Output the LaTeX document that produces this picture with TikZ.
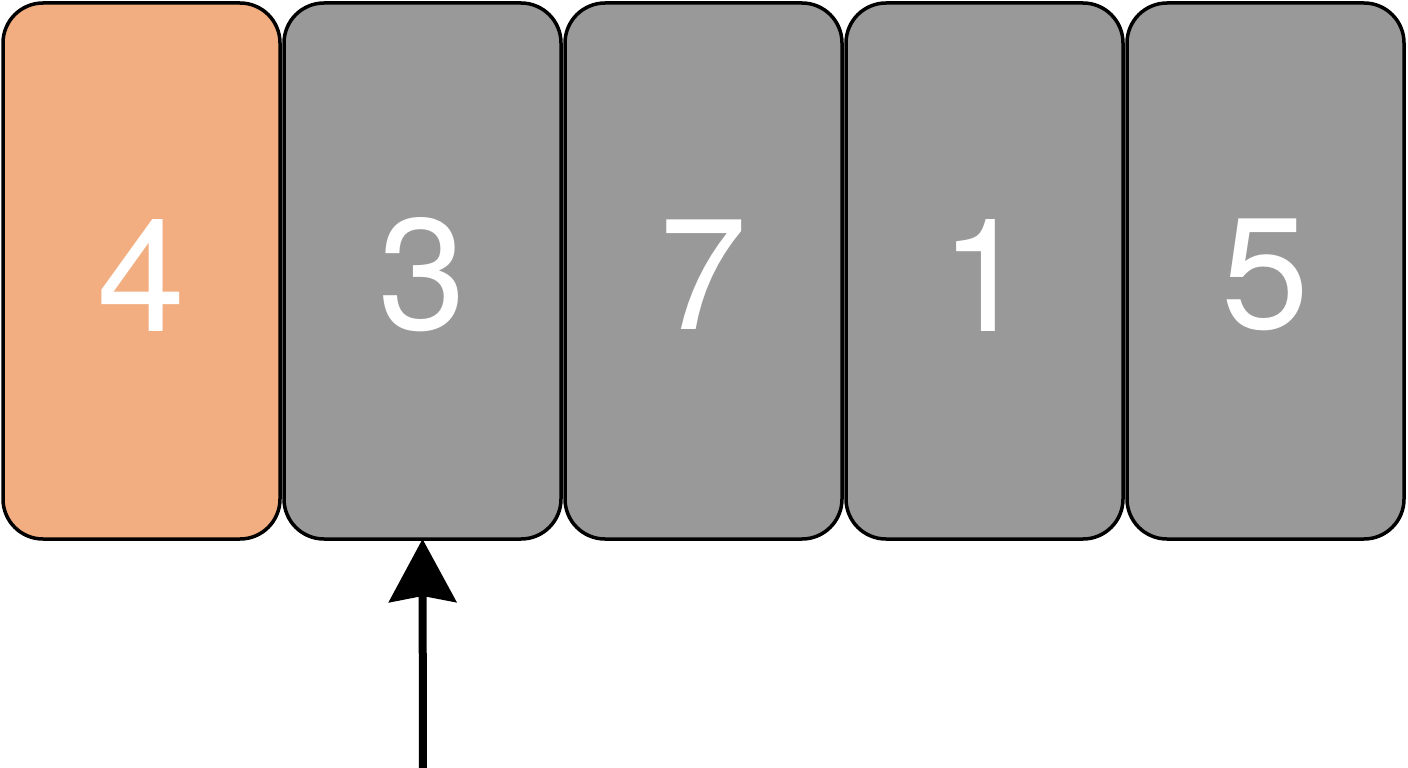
\documentclass[tikz,border=0pt]{standalone}
\usepackage{fontspec}
\setmainfont{TeX Gyre Heros}
\usetikzlibrary{arrows.meta,calc}
\definecolor{cardorange}{HTML}{F2AE80}
\definecolor{cardgray}{HTML}{999999}
\begin{document}
\begin{tikzpicture}[x=1pt,y=-1pt,
  card/.style={draw=black, line width=3.5pt, rounded corners=40pt,
    minimum width=277pt, minimum height=536pt, inner sep=0pt, outer sep=0pt},
  digit/.style={text=white, inner sep=0pt, font=\fontsize{158}{158}\selectfont},
  pointer/.style={line width=8pt, -{Stealth[length=63pt,width=67pt,inset=6pt]}}]
\useasboundingbox (0,0) rectangle (1408,768);
\node[card, fill=cardorange] (c1) at (141.5,271) {};
\node[card, fill=cardgray] (c2) at (422.5,271) {};
\node[card, fill=cardgray] (c3) at (703.5,271) {};
\node[card, fill=cardgray] (c4) at (984.5,271) {};
\node[card, fill=cardgray] (c5) at (1265.5,271) {};
\node[digit] (t1) at ($(c1.center)+(0,4)$) {4};
\node[digit] (t2) at ($(c2.center)+(0,4)$) {3};
\node[digit] (t3) at ($(c3.center)+(0,4)$) {7};
\node[digit] (t4) at ($(c4.center)+(0,4)$) {1};
\node[digit] (t5) at ($(c5.center)+(0,4)$) {5};
\coordinate (pstart) at (423,772);
\draw[pointer] (pstart) -- (c2.south);
\end{tikzpicture}
\end{document}
